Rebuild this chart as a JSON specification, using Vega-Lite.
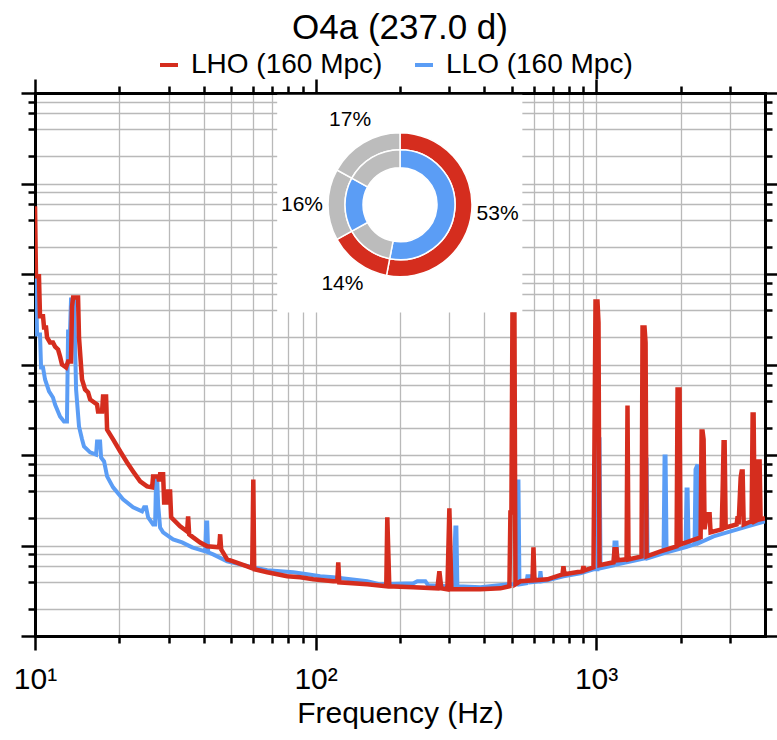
{
  "$schema": "https://vega.github.io/schema/vega-lite/v6.json",
  "width": 730,
  "height": 543,
  "autosize": {"type": "none"},
  "padding": {"left": 35, "top": 93, "right": 12, "bottom": 104},
  "background": "white",
  "title": {"text": "O4a (237.0 d)", "fontSize": 35, "font": "Liberation Sans", "fontWeight": "normal", "color": "black", "anchor": "middle", "frame": "group", "offset": 5},
  "config": {"font": "Liberation Sans", "view": {"stroke": null}},
  "datasets": {
    "duty": [
      {"seg": 1, "pct": 53, "lho": true, "llo": true, "label": "53%"},
      {"seg": 2, "pct": 14, "lho": true, "llo": false, "label": "14%"},
      {"seg": 3, "pct": 16, "lho": false, "llo": true, "label": "16%"},
      {"seg": 4, "pct": 17, "lho": false, "llo": false, "label": "17%"}
    ],
    "asd": [
      {"det":"LLO","f":10,"h":8.68e-21},{"det":"LLO","f":10.08,"h":8.68e-21},{"det":"LLO","f":10.17,"h":2.14e-21},{"det":"LLO","f":10.42,"h":2.14e-21},
      {"det":"LLO","f":10.51,"h":9.27e-22},{"det":"LLO","f":10.68,"h":9.27e-22},{"det":"LLO","f":10.86,"h":6.83e-22},{"det":"LLO","f":11.22,"h":5.04e-22},
      {"det":"LLO","f":11.59,"h":4.32e-22},{"det":"LLO","f":11.79,"h":3.61e-22},{"det":"LLO","f":12.28,"h":2.67e-22},{"det":"LLO","f":12.69,"h":2.35e-22},
      {"det":"LLO","f":13.0,"h":2.35e-22},{"det":"LLO","f":13.12,"h":2.31e-21},{"det":"LLO","f":13.33,"h":2.31e-21},{"det":"LLO","f":13.44,"h":5.22e-21},
      {"det":"LLO","f":13.78,"h":5.22e-21},{"det":"LLO","f":14.01,"h":5.3e-22},{"det":"LLO","f":14.35,"h":2.07e-22},{"det":"LLO","f":14.71,"h":1.49e-22},
      {"det":"LLO","f":14.95,"h":1.24e-22},{"det":"LLO","f":15.72,"h":1.07e-22},{"det":"LLO","f":16.51,"h":1.01e-22},{"det":"LLO","f":16.64,"h":1.41e-22},
      {"det":"LLO","f":17.06,"h":1.41e-22},{"det":"LLO","f":17.2,"h":9.4e-23},{"det":"LLO","f":17.63,"h":8.49e-23},{"det":"LLO","f":18.07,"h":5.8e-23},
      {"det":"LLO","f":18.98,"h":4.39e-23},{"det":"LLO","f":20.6,"h":3.24e-23},{"det":"LLO","f":22.37,"h":2.64e-23},{"det":"LLO","f":24.08,"h":2.38e-23},
      {"det":"LLO","f":24.48,"h":2.64e-23},{"det":"LLO","f":24.89,"h":2.64e-23},{"det":"LLO","f":25.3,"h":2.05e-23},{"det":"LLO","f":26.36,"h":1.71e-23},
      {"det":"LLO","f":26.8,"h":1.71e-23},{"det":"LLO","f":27.02,"h":5.65e-23},{"det":"LLO","f":27.25,"h":5.65e-23},{"det":"LLO","f":27.47,"h":2.85e-23},
      {"det":"LLO","f":27.92,"h":1.58e-23},{"det":"LLO","f":28.62,"h":1.4e-23},{"det":"LLO","f":31.07,"h":1.17e-23},{"det":"LLO","f":33.46,"h":1.08e-23},
      {"det":"LLO","f":36.32,"h":9.55e-24},{"det":"LLO","f":40.43,"h":8.61e-24},{"det":"LLO","f":40.76,"h":1.8e-23},{"det":"LLO","f":41.1,"h":1.8e-23},
      {"det":"LLO","f":41.43,"h":8.4e-24},{"det":"LLO","f":43.15,"h":7.98e-24},{"det":"LLO","f":48.42,"h":6.68e-24},{"det":"LLO","f":53.87,"h":6.19e-24},
      {"det":"LLO","f":59.9,"h":5.74e-24},{"det":"LLO","f":67.27,"h":5.32e-24},{"det":"LLO","f":74.83,"h":5.19e-24},{"det":"LLO","f":83.25,"h":5.06e-24},
      {"det":"LLO","f":93.42,"h":4.81e-24},{"det":"LLO","f":103.9,"h":4.57e-24},{"det":"LLO","f":115.7,"h":4.46e-24},{"det":"LLO","f":152.9,"h":4.02e-24},
      {"det":"LLO","f":170.1,"h":3.72e-24},{"det":"LLO","f":223.2,"h":3.82e-24},{"det":"LLO","f":230.6,"h":4.02e-24},{"det":"LLO","f":246.3,"h":4.02e-24},
      {"det":"LLO","f":252.4,"h":3.63e-24},{"det":"LLO","f":295.1,"h":3.54e-24},{"det":"LLO","f":309.9,"h":3.54e-24},{"det":"LLO","f":315.1,"h":1.58e-23},
      {"det":"LLO","f":317.7,"h":1.58e-23},{"det":"LLO","f":320.3,"h":3.54e-24},{"det":"LLO","f":386.9,"h":3.45e-24},{"det":"LLO","f":487,"h":3.72e-24},
      {"det":"LLO","f":520,"h":3.72e-24},{"det":"LLO","f":524.4,"h":5.11e-23},{"det":"LLO","f":528.7,"h":5.11e-23},{"det":"LLO","f":533.1,"h":3.72e-24},
      {"det":"LLO","f":564.6,"h":3.82e-24},{"det":"LLO","f":569.2,"h":4.57e-24},{"det":"LLO","f":578.6,"h":4.57e-24},{"det":"LLO","f":583.4,"h":3.92e-24},
      {"det":"LLO","f":628.2,"h":4.02e-24},{"det":"LLO","f":633.4,"h":5.19e-24},{"det":"LLO","f":638.6,"h":4.02e-24},{"det":"LLO","f":671,"h":4.12e-24},
      {"det":"LLO","f":765.1,"h":4.57e-24},{"det":"LLO","f":879.6,"h":4.93e-24},{"det":"LLO","f":978.8,"h":5.46e-24},{"det":"LLO","f":1011.6,"h":5.46e-24},
      {"det":"LLO","f":1020,"h":1.49e-22},{"det":"LLO","f":1028.3,"h":1.49e-22},{"det":"LLO","f":1037,"h":5.6e-24},{"det":"LLO","f":1153.6,"h":6.04e-24},
      {"det":"LLO","f":1163.1,"h":1.08e-23},{"det":"LLO","f":1182.4,"h":1.08e-23},{"det":"LLO","f":1192.2,"h":6.19e-24},{"det":"LLO","f":1488.4,"h":7.21e-24},
      {"det":"LLO","f":1501,"h":8.93e-23},{"det":"LLO","f":1513.2,"h":8.93e-23},{"det":"LLO","f":1526,"h":7.21e-24},{"det":"LLO","f":1739.6,"h":8.18e-24},
      {"det":"LLO","f":1754,"h":9.64e-23},{"det":"LLO","f":1768.6,"h":9.64e-23},{"det":"LLO","f":1783.1,"h":8.4e-24},{"det":"LLO","f":2084,"h":9.55e-24},
      {"det":"LLO","f":2101,"h":4.17e-23},{"det":"LLO","f":2119,"h":4.17e-23},{"det":"LLO","f":2136,"h":9.79e-24},{"det":"LLO","f":2244,"h":1.03e-23},
      {"det":"LLO","f":2262,"h":6.93e-23},{"det":"LLO","f":2300,"h":7.87e-23},{"det":"LLO","f":2319,"h":1.06e-23},{"det":"LLO","f":2623,"h":1.26e-23},
      {"det":"LLO","f":3017,"h":1.43e-23},{"det":"LLO","f":3468,"h":1.63e-23},{"det":"LLO","f":4000,"h":1.85e-23},

      {"det":"LHO","f":10,"h":5.6e-20},{"det":"LHO","f":10.08,"h":9.44e-21},{"det":"LHO","f":10.33,"h":9.44e-21},{"det":"LHO","f":10.42,"h":3.41e-21},
      {"det":"LHO","f":10.68,"h":3.41e-21},{"det":"LHO","f":10.77,"h":2.56e-21},{"det":"LHO","f":10.95,"h":2.56e-21},{"det":"LHO","f":11.04,"h":1.99e-21},
      {"det":"LHO","f":11.31,"h":1.75e-21},{"det":"LHO","f":11.59,"h":1.75e-21},{"det":"LHO","f":11.79,"h":1.58e-21},{"det":"LHO","f":12.08,"h":1.47e-21},
      {"det":"LHO","f":12.28,"h":1.23e-21},{"det":"LHO","f":12.48,"h":1.0e-21},{"det":"LHO","f":12.9,"h":9.27e-22},{"det":"LHO","f":13.12,"h":1.08e-21},
      {"det":"LHO","f":13.44,"h":1.08e-21},{"det":"LHO","f":13.55,"h":4.37e-21},{"det":"LHO","f":13.67,"h":5.49e-21},{"det":"LHO","f":14.24,"h":5.49e-21},
      {"det":"LHO","f":14.35,"h":1.99e-21},{"det":"LHO","f":14.71,"h":6.83e-22},{"det":"LHO","f":15.08,"h":5.3e-22},{"det":"LHO","f":15.46,"h":4.91e-22},
      {"det":"LHO","f":15.72,"h":4.11e-22},{"det":"LHO","f":16.64,"h":3.61e-22},{"det":"LHO","f":16.78,"h":3.03e-22},{"det":"LHO","f":17.34,"h":3.03e-22},
      {"det":"LHO","f":17.48,"h":4.43e-22},{"det":"LHO","f":17.92,"h":4.43e-22},{"det":"LHO","f":18.07,"h":1.91e-22},{"det":"LHO","f":18.98,"h":1.49e-22},
      {"det":"LHO","f":20.11,"h":1.1e-22},{"det":"LHO","f":21.29,"h":8.28e-23},{"det":"LHO","f":22.37,"h":6.59e-23},{"det":"LHO","f":23.7,"h":5.11e-23},
      {"det":"LHO","f":25.09,"h":4.5e-23},{"det":"LHO","f":26.15,"h":4.39e-23},{"det":"LHO","f":26.36,"h":5.8e-23},{"det":"LHO","f":27.47,"h":5.8e-23},
      {"det":"LHO","f":27.7,"h":5.11e-23},{"det":"LHO","f":27.92,"h":6.11e-23},{"det":"LHO","f":28.62,"h":6.11e-23},{"det":"LHO","f":28.86,"h":2.99e-23},
      {"det":"LHO","f":29.58,"h":2.99e-23},{"det":"LHO","f":29.82,"h":3.96e-23},{"det":"LHO","f":30.31,"h":3.96e-23},{"det":"LHO","f":30.57,"h":2.05e-23},
      {"det":"LHO","f":32.91,"h":1.63e-23},{"det":"LHO","f":34.85,"h":1.43e-23},{"det":"LHO","f":35.14,"h":2.1e-23},{"det":"LHO","f":35.44,"h":1.33e-23},
      {"det":"LHO","f":36.62,"h":1.23e-23},{"det":"LHO","f":38.8,"h":1.08e-23},{"det":"LHO","f":41.1,"h":9.79e-24},{"det":"LHO","f":45.34,"h":9.55e-24},
      {"det":"LHO","f":45.71,"h":1.33e-23},{"det":"LHO","f":46.09,"h":9.08e-24},{"det":"LHO","f":48.42,"h":7.03e-24},{"det":"LHO","f":50.86,"h":6.68e-24},
      {"det":"LHO","f":57.05,"h":5.89e-24},{"det":"LHO","f":59.46,"h":5.6e-24},{"det":"LHO","f":60.0,"h":5.37e-23},{"det":"LHO","f":60.43,"h":5.46e-24},
      {"det":"LHO","f":67.27,"h":5.06e-24},{"det":"LHO","f":79.25,"h":4.57e-24},{"det":"LHO","f":88.19,"h":4.46e-24},{"det":"LHO","f":98.13,"h":4.23e-24},
      {"det":"LHO","f":115.7,"h":4.02e-24},{"det":"LHO","f":119.5,"h":4.02e-24},{"det":"LHO","f":120.5,"h":6.52e-24},{"det":"LHO","f":121.5,"h":3.92e-24},
      {"det":"LHO","f":152.9,"h":3.72e-24},{"det":"LHO","f":178.7,"h":3.54e-24},{"det":"LHO","f":180.2,"h":2.05e-23},{"det":"LHO","f":183.2,"h":3.54e-24},
      {"det":"LHO","f":223.2,"h":3.45e-24},{"det":"LHO","f":271.8,"h":3.36e-24},{"det":"LHO","f":276.3,"h":5.19e-24},{"det":"LHO","f":280.8,"h":3.36e-24},
      {"det":"LHO","f":295.1,"h":3.28e-24},{"det":"LHO","f":299.9,"h":2.57e-23},{"det":"LHO","f":304.9,"h":3.28e-24},{"det":"LHO","f":386.9,"h":3.28e-24},
      {"det":"LHO","f":456,"h":3.36e-24},{"det":"LHO","f":491,"h":3.54e-24},{"det":"LHO","f":495,"h":2.32e-23},{"det":"LHO","f":499.1,"h":2.32e-23},
      {"det":"LHO","f":503.3,"h":3.56e-21},{"det":"LHO","f":511.6,"h":3.56e-21},{"det":"LHO","f":515.8,"h":3.72e-24},{"det":"LHO","f":537.4,"h":4.02e-24},
      {"det":"LHO","f":593.2,"h":4.12e-24},{"det":"LHO","f":598,"h":9.55e-24},{"det":"LHO","f":603,"h":4.12e-24},{"det":"LHO","f":671,"h":4.23e-24},
      {"det":"LHO","f":758.9,"h":4.81e-24},{"det":"LHO","f":765.1,"h":5.89e-24},{"det":"LHO","f":771.5,"h":4.81e-24},{"det":"LHO","f":894.3,"h":5.19e-24},
      {"det":"LHO","f":901.6,"h":5.89e-24},{"det":"LHO","f":909,"h":5.32e-24},{"det":"LHO","f":978.8,"h":5.74e-24},{"det":"LHO","f":987,"h":1.56e-22},
      {"det":"LHO","f":995.2,"h":4.96e-21},{"det":"LHO","f":1011.6,"h":4.96e-21},{"det":"LHO","f":1020,"h":2.91e-21},{"det":"LHO","f":1028.3,"h":6.04e-24},
      {"det":"LHO","f":1153.6,"h":6.52e-24},{"det":"LHO","f":1163.1,"h":9.08e-24},{"det":"LHO","f":1182.4,"h":9.08e-24},{"det":"LHO","f":1192.2,"h":6.86e-24},
      {"det":"LHO","f":1284,"h":7.03e-24},{"det":"LHO","f":1294,"h":3.52e-22},{"det":"LHO","f":1304.6,"h":7.03e-24},{"det":"LHO","f":1452,"h":7.59e-24},
      {"det":"LHO","f":1464,"h":2.56e-21},{"det":"LHO","f":1488.4,"h":2.56e-21},{"det":"LHO","f":1501,"h":1.75e-21},{"det":"LHO","f":1513.2,"h":7.59e-24},
      {"det":"LHO","f":1697,"h":8.61e-24},{"det":"LHO","f":1936,"h":9.79e-24},{"det":"LHO","f":1951.6,"h":5.3e-22},{"det":"LHO","f":1984,"h":5.3e-22},
      {"det":"LHO","f":2000,"h":1.03e-23},{"det":"LHO","f":2358,"h":1.23e-23},{"det":"LHO","f":2377,"h":1.82e-22},{"det":"LHO","f":2397,"h":1.82e-22},
      {"det":"LHO","f":2416.5,"h":1.49e-22},{"det":"LHO","f":2436,"h":1.51e-23},{"det":"LHO","f":2477,"h":2.21e-23},{"det":"LHO","f":2539,"h":2.21e-23},
      {"det":"LHO","f":2559,"h":1.4e-23},{"det":"LHO","f":2802,"h":1.51e-23},{"det":"LHO","f":2825,"h":3.96e-23},{"det":"LHO","f":2848,"h":1.38e-22},
      {"det":"LHO","f":2872,"h":1.38e-22},{"det":"LHO","f":2896,"h":1.58e-23},{"det":"LHO","f":3169,"h":1.71e-23},{"det":"LHO","f":3196,"h":2.1e-23},
      {"det":"LHO","f":3221,"h":1.71e-23},{"det":"LHO","f":3276,"h":5.65e-23},{"det":"LHO","f":3302,"h":6.59e-23},{"det":"LHO","f":3329,"h":6.59e-23},
      {"det":"LHO","f":3358,"h":1.71e-23},{"det":"LHO","f":3584,"h":1.85e-23},{"det":"LHO","f":3614,"h":2.81e-22},{"det":"LHO","f":3643,"h":2.81e-22},
      {"det":"LHO","f":3674,"h":1.85e-23},{"det":"LHO","f":3735,"h":1.9e-23},{"det":"LHO","f":3765,"h":8.49e-23},{"det":"LHO","f":3827,"h":8.49e-23},
      {"det":"LHO","f":3858,"h":1.95e-23},{"det":"LHO","f":4000,"h":2.0e-23}
    ]
  },
  "resolve": {"axis": {"x": "independent", "y": "independent"}},
  "layer": [
    {
      "data": {"values": [{"box": "inset"}]},
      "mark": {"type": "rect", "fill": "white", "stroke": null},
      "encoding": {
        "x": {"datum": 73, "type": "quantitative", "scale": {"type": "log", "domain": [10, 4000], "nice": false}, "axis": null},
        "x2": {"datum": 546},
        "y": {"datum": 3.75e-21, "type": "quantitative", "scale": {"type": "log", "domain": [1e-24, 1e-18], "nice": false}, "axis": null},
        "y2": {"datum": 9.58e-19}
      }
    },
    {
      "data": {"name": "asd"},
      "transform": [{"filter": "datum.det == 'LLO'"}],
      "mark": {"type": "line", "strokeWidth": 4, "strokeJoin": "miter", "clip": true},
      "encoding": {
        "x": {"field": "f", "type": "quantitative", "scale": {"type": "log", "domain": [10, 4000], "nice": false},
          "axis": {"orient": "bottom", "values": [10,20,30,40,50,60,70,80,90,100,200,300,400,500,600,700,800,900,1000,2000,3000],
            "grid": true, "gridColor": "#b9b9b9", "gridWidth": 1.3,
            "domainColor": "black", "domainWidth": 3, "domainCap": "square",
            "tickColor": "black", "tickWidth": 2.5,
            "tickSize": {"condition": {"test": "abs(log(datum.value)/LN10 - round(log(datum.value)/LN10)) < 0.001", "value": 14}, "value": 7},
            "labelExpr": "datum.value == 10 ? '10¹' : datum.value == 100 ? '10²' : datum.value == 1000 ? '10³' : ''",
            "labelFontSize": 30, "labelColor": "black", "labelPadding": 14, "labelOverlap": false, "labelFlush": false, "labelBound": false,
            "title": "Frequency (Hz)", "titleFontSize": 30, "titleFontWeight": "normal", "titleColor": "black", "titlePadding": 4}},
        "y": {"field": "h", "type": "quantitative", "scale": {"type": "log", "domain": [1e-24, 1e-18], "nice": false},
          "axis": {"orient": "left", "values": [1e-24,2e-24,4e-24,6e-24,8e-24,1e-23,2e-23,4e-23,6e-23,8e-23,1e-22,2e-22,4e-22,6e-22,8e-22,1e-21,2e-21,4e-21,6e-21,8e-21,1e-20,2e-20,4e-20,6e-20,8e-20,1e-19,2e-19,4e-19,6e-19,8e-19,1e-18],
            "grid": true, "gridColor": "#b9b9b9", "gridWidth": 1.3,
            "domainColor": "black", "domainWidth": 3, "domainCap": "square",
            "tickColor": "black", "tickWidth": 2.5,
            "tickSize": {"condition": {"test": "abs(log(datum.value)/LN10 - round(log(datum.value)/LN10)) < 0.001", "value": 14}, "value": 7},
            "labels": false, "title": null}},
        "color": {"field": "det", "type": "nominal",
          "scale": {"domain": ["LHO", "LLO"], "range": ["#d52d1e", "#5b9df5"]},
          "legend": {"orient": "none", "legendX": 120, "legendY": -42, "direction": "horizontal", "title": null,
            "symbolType": "stroke", "symbolStrokeWidth": 4, "symbolSize": 324,
            "labelFontSize": 28, "labelFont": "Liberation Sans", "labelColor": "black", "labelOffset": 8, "labelLimit": 400,
            "columnPadding": 24, "padding": 0,
            "labelExpr": "datum.label + ' (160 Mpc)'"}}
      }
    },
    {
      "data": {"name": "asd"},
      "transform": [{"filter": "datum.det == 'LHO'"}],
      "mark": {"type": "line", "strokeWidth": 4.5, "strokeJoin": "miter", "clip": true},
      "encoding": {
        "x": {"field": "f", "type": "quantitative", "scale": {"type": "log", "domain": [10, 4000], "nice": false}, "axis": null},
        "y": {"field": "h", "type": "quantitative", "scale": {"type": "log", "domain": [1e-24, 1e-18], "nice": false}, "axis": null},
        "color": {"field": "det", "type": "nominal", "scale": {"domain": ["LHO", "LLO"], "range": ["#d52d1e", "#5b9df5"]}}
      }
    },
    {
      "data": {"name": "duty"},
      "mark": {"type": "arc", "radius": 72, "radius2": 55, "stroke": "white", "strokeWidth": 1.5},
      "encoding": {
        "x": {"datum": 200, "type": "quantitative", "scale": {"type": "log", "domain": [10, 4000], "nice": false},
          "axis": {"orient": "top", "values": [10,20,30,40,50,60,70,80,90,100,200,300,400,500,600,700,800,900,1000,2000,3000],
            "grid": false, "labels": false, "title": null,
            "domainColor": "black", "domainWidth": 3, "domainCap": "square",
            "tickColor": "black", "tickWidth": 2.5,
            "tickSize": {"condition": {"test": "abs(log(datum.value)/LN10 - round(log(datum.value)/LN10)) < 0.001", "value": 14}, "value": 7}}},
        "y": {"datum": 5.83e-20, "type": "quantitative", "scale": {"type": "log", "domain": [1e-24, 1e-18], "nice": false},
          "axis": {"orient": "right", "values": [1e-24,2e-24,4e-24,6e-24,8e-24,1e-23,2e-23,4e-23,6e-23,8e-23,1e-22,2e-22,4e-22,6e-22,8e-22,1e-21,2e-21,4e-21,6e-21,8e-21,1e-20,2e-20,4e-20,6e-20,8e-20,1e-19,2e-19,4e-19,6e-19,8e-19,1e-18],
            "grid": false, "labels": false, "title": null,
            "domainColor": "black", "domainWidth": 3, "domainCap": "square",
            "tickColor": "black", "tickWidth": 2.5,
            "tickSize": {"condition": {"test": "abs(log(datum.value)/LN10 - round(log(datum.value)/LN10)) < 0.001", "value": 14}, "value": 7}}},
        "theta": {"field": "pct", "type": "quantitative", "stack": true},
        "order": {"field": "seg", "type": "quantitative"},
        "detail": {"field": "seg", "type": "nominal"},
        "fill": {"condition": {"test": "datum.lho", "value": "#d52d1e"}, "value": "#bcbcbc"}
      }
    },
    {
      "data": {"name": "duty"},
      "mark": {"type": "arc", "radius": 55, "radius2": 37, "stroke": "white", "strokeWidth": 1.5},
      "encoding": {
        "x": {"datum": 200, "type": "quantitative", "scale": {"type": "log", "domain": [10, 4000], "nice": false}, "axis": null},
        "y": {"datum": 5.83e-20, "type": "quantitative", "scale": {"type": "log", "domain": [1e-24, 1e-18], "nice": false}, "axis": null},
        "theta": {"field": "pct", "type": "quantitative", "stack": true},
        "order": {"field": "seg", "type": "quantitative"},
        "detail": {"field": "seg", "type": "nominal"},
        "fill": {"condition": {"test": "datum.llo", "value": "#5b9df5"}, "value": "#bcbcbc"}
      }
    },
    {
      "data": {"name": "duty"},
      "mark": {"type": "text", "radius": 98, "fontSize": 21, "font": "Liberation Sans", "color": "black", "align": "center", "baseline": "middle"},
      "encoding": {
        "x": {"datum": 200, "type": "quantitative", "scale": {"type": "log", "domain": [10, 4000], "nice": false}, "axis": null},
        "y": {"datum": 5.83e-20, "type": "quantitative", "scale": {"type": "log", "domain": [1e-24, 1e-18], "nice": false}, "axis": null},
        "theta": {"field": "pct", "type": "quantitative", "stack": true},
        "order": {"field": "seg", "type": "quantitative"},
        "detail": {"field": "seg", "type": "nominal"},
        "text": {"field": "label", "type": "nominal"}
      }
    }
  ]
}
